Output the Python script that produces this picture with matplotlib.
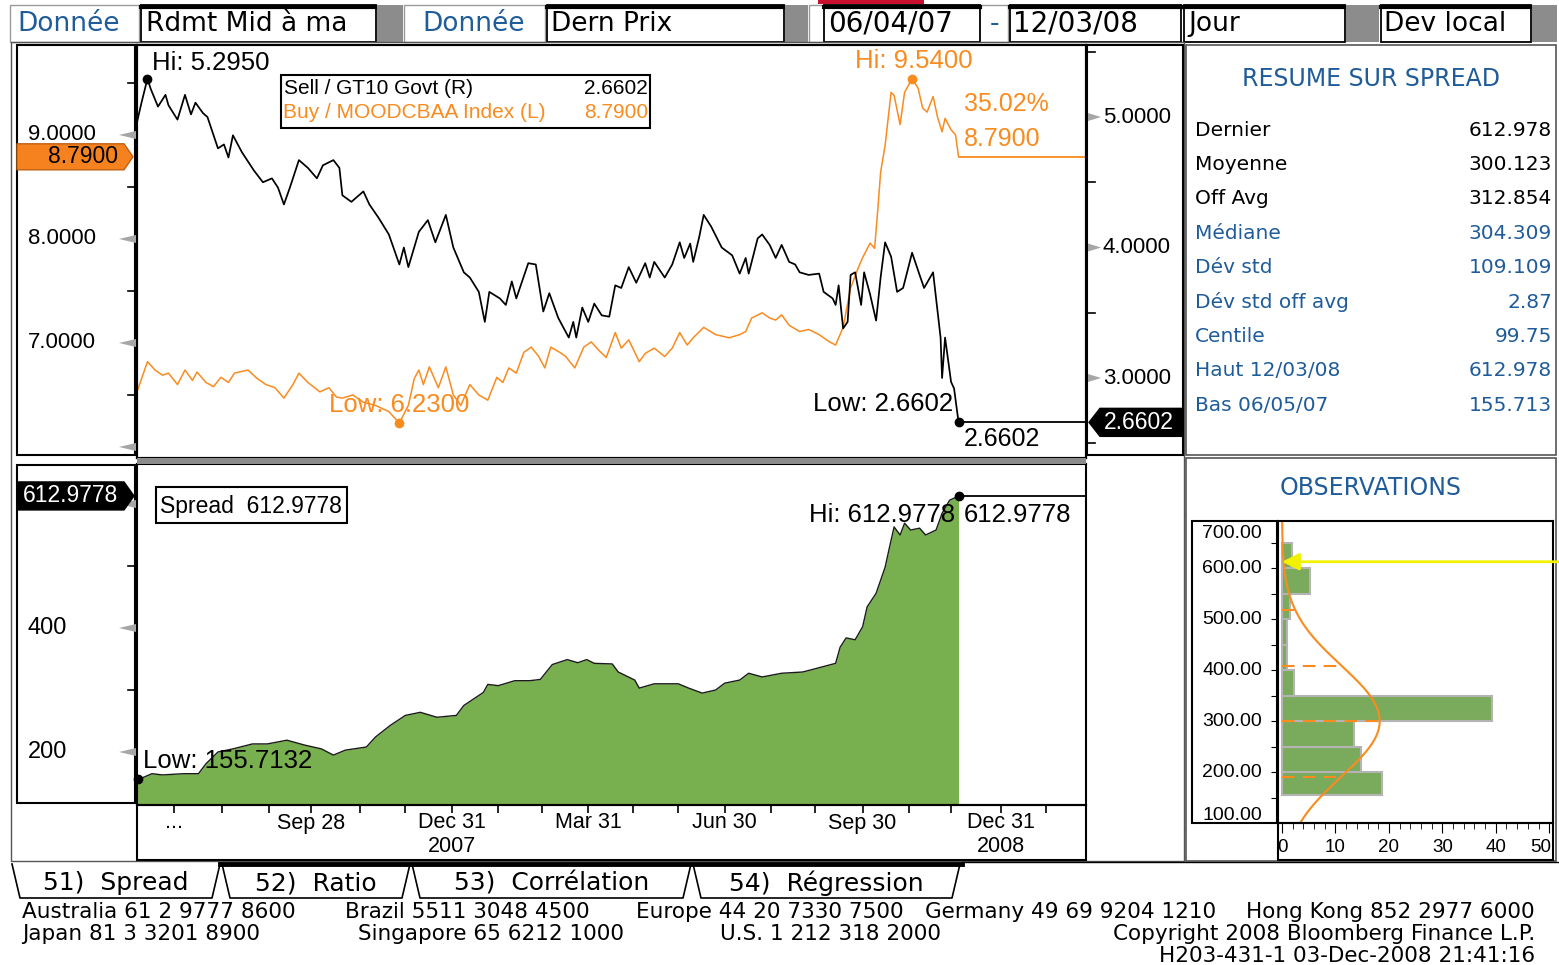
import numpy as np
import pandas as pd
import matplotlib
matplotlib.use("Agg")
import matplotlib.pyplot as plt
import matplotlib.dates as mdates
from matplotlib.patches import Rectangle, Polygon
from matplotlib import font_manager

# ---------------- DATA ----------------
START = "2007-06-04"
gt10_days = [0, 3, 7, 9, 14, 19, 21, 27, 32, 36,
             39, 44, 47, 54, 58, 61, 64, 70, 78, 84,
             90, 94, 98, 102, 108, 114, 120, 124, 131, 135,
             137, 143, 151, 155, 161, 168, 175, 178, 181, 188,
             194, 199, 206, 211, 218, 222, 228, 232, 235, 242,
             246, 250, 253, 261, 266, 271, 275, 281, 288, 291,
             293, 297, 301, 305, 310, 315, 319, 323, 328, 333,
             339, 342, 345, 352, 357, 362, 365, 369, 371, 375,
             378, 383, 390, 397, 402, 406, 408, 414, 417, 422,
             426, 430, 435, 439, 442, 448, 455, 458, 464, 466,
             468, 471, 474, 476, 479, 483, 485, 489, 493, 496,
             499, 503, 507, 511, 517, 522, 525, 531, 533, 536,
             537, 539, 543, 545, 548]
gt10_vals = [4.96, 5.11, 5.295, 5.22, 5.08, 5.17, 5.09, 4.98, 5.17, 5.02,
             5.11, 5.03, 5.00, 4.76, 4.79, 4.69, 4.86, 4.73, 4.59, 4.50,
             4.53, 4.46, 4.33, 4.46, 4.67, 4.61, 4.53, 4.63, 4.67, 4.61,
             4.40, 4.35, 4.43, 4.33, 4.23, 4.10, 3.87, 4.00, 3.85, 4.12,
             4.21, 4.04, 4.25, 4.00, 3.81, 3.77, 3.66, 3.43, 3.66, 3.61,
             3.56, 3.74, 3.61, 3.88, 3.87, 3.51, 3.65, 3.46, 3.31, 3.43,
             3.31, 3.54, 3.43, 3.57, 3.48, 3.47, 3.71, 3.69, 3.85, 3.73,
             3.88, 3.77, 3.89, 3.77, 3.87, 4.04, 3.92, 4.03, 3.89, 4.08,
             4.25, 4.16, 4.00, 3.94, 3.80, 3.92, 3.80, 4.07, 4.10, 4.02,
             3.92, 4.02, 3.89, 3.87, 3.81, 3.79, 3.80, 3.66, 3.61, 3.56,
             3.71, 3.38, 3.43, 3.79, 3.81, 3.56, 3.81, 3.64, 3.44, 3.77,
             4.04, 3.93, 3.66, 3.69, 3.96, 3.79, 3.69, 3.81, 3.61, 3.31,
             3.00, 3.31, 2.97, 2.92, 2.6602]

baa_days = [0, 7, 12, 17, 21, 27, 32, 37, 40, 46,
            51, 56, 61, 65, 74, 80, 86, 92, 98, 104,
            108, 114, 122, 128, 133, 137, 144, 151, 159, 168,
            175, 181, 185, 188, 191, 195, 201, 206, 211, 216,
            222, 228, 234, 240, 244, 248, 253, 258, 263, 268,
            272, 276, 282, 286, 292, 298, 303, 308, 313, 319,
            323, 328, 335, 339, 345, 352, 357, 362, 367, 371,
            378, 386, 395, 402, 406, 410, 417, 422, 426, 430,
            435, 442, 448, 455, 462, 466, 471, 476, 481, 484,
            489, 492, 494, 496, 499, 503, 505, 509, 512, 517,
            521, 524, 527, 531, 534, 537, 539, 543, 546, 548]
baa_vals = [6.53, 6.82, 6.74, 6.69, 6.71, 6.60, 6.74, 6.64, 6.72, 6.62,
            6.58, 6.67, 6.62, 6.71, 6.74, 6.66, 6.60, 6.57, 6.47, 6.60,
            6.71, 6.62, 6.53, 6.57, 6.48, 6.47, 6.50, 6.43, 6.40, 6.34,
            6.23, 6.40, 6.66, 6.74, 6.60, 6.77, 6.57, 6.77, 6.50, 6.40,
            6.60, 6.50, 6.45, 6.67, 6.62, 6.76, 6.71, 6.91, 6.96, 6.87,
            6.76, 6.96, 6.91, 6.87, 6.76, 6.96, 7.01, 6.93, 6.86, 7.10,
            6.95, 7.03, 6.82, 6.90, 6.95, 6.87, 6.95, 7.10, 6.98, 7.05,
            7.15, 7.08, 7.05, 7.08, 7.11, 7.24, 7.29, 7.24, 7.22, 7.27,
            7.17, 7.11, 7.13, 7.08, 7.01, 6.98, 7.15, 7.53, 7.72, 7.82,
            7.96, 7.91, 8.26, 8.64, 8.90, 9.41, 9.38, 9.10, 9.41, 9.54,
            9.45, 9.26, 9.22, 9.37, 9.17, 9.03, 9.16, 9.05, 9.00, 8.79]

spread_days = [0, 1, 10, 17, 31, 41, 46, 54, 64, 77,
               87, 100, 112, 123, 131, 139, 153, 159, 169, 179,
               189, 200, 213, 218, 231, 234, 241, 252, 262, 269,
               277, 287, 294, 300, 305, 317, 321, 332, 335, 345,
               361, 368, 377, 386, 392, 402, 408, 417, 430, 444,
               452, 466, 469, 473, 479, 484, 487, 493, 496, 499,
               502, 505, 509, 512, 516, 522, 526, 533, 537, 542,
               548]
spread_vals = [158, 155.7132, 165, 163, 165, 165, 181, 200, 205, 213,
               213, 219, 211, 205, 195, 203, 208, 224, 243, 259,
               264, 256, 259, 275, 296, 309, 307, 315, 315, 317,
               341, 349, 344, 349, 343, 342, 329, 316, 303, 310,
               310, 303, 295, 300, 311, 316, 327, 321, 327, 329,
               334, 343, 369, 384, 381, 402, 434, 456, 477, 498,
               531, 563, 550, 569, 558, 561, 550, 558, 585, 606,
               612.9778]

hist_edges = [155.71, 200, 250, 300, 350, 400, 450, 500, 550, 600, 650]
hist_pct = [18.8, 14.8, 13.5, 39.3, 2.2, 1.0, 1.0, 1.5, 5.2, 1.9]

summary_labels = ["Dernier", "Moyenne", "Off Avg", "Médiane", "Dév std",
                  "Dév std off avg", "Centile", "Haut 12/03/08", "Bas 06/05/07"]
summary_values = ["612.978", "300.123", "312.854", "304.309", "109.109",
                  "2.87", "99.75", "612.978", "155.713"]

qtr_labels = [("2007-06-29", "...", ""), ("2007-09-28", "Sep 28", ""),
              ("2007-12-31", "Dec 31", "2007"), ("2008-03-31", "Mar 31", ""),
              ("2008-06-30", "Jun 30", ""), ("2008-09-30", "Sep 30", ""),
              ("2008-12-31", "Dec 31", "2008")]

header_texts = ["Donnée", "Rdmt Mid à ma", "Donnée", "Dern Prix",
                "06/04/07", "-", "12/03/08", "Jour", "Dev local"]
tab_texts = ["51)  Spread", "52)  Ratio", "53)  Corrélation", "54)  Régression"]
legend_names = ["Sell / GT10 Govt (R)", "Buy / MOODCBAA Index (L)"]
pct_change_text = "35.02%"

# ---------------- SETUP ----------------
W, H = 1559, 965
fig = plt.figure(figsize=(W / 100, H / 100), dpi=100)
fig.patch.set_facecolor("white")

avail = {f.name for f in font_manager.fontManager.ttflist}
def pick(*names):
    for n in names:
        if n in avail:
            return n
    return "DejaVu Sans"
CHART = pick("Liberation Sans", "Arimo", "DejaVu Sans")
TERM = "DejaVu Sans"

ORANGE = "#f98b1f"
BLUE = "#1f5c99"
GREEN = "#79b04f"
HGREEN = "#7aab5c"
GREY = "#8c8c8c"

def rect(x0, y0, x1, y1):
    return [x0 / W, 1 - y1 / H, (x1 - x0) / W, (y1 - y0) / H]

start = pd.Timestamp(START)
gt10_dates = mdates.date2num(start + pd.to_timedelta(gt10_days, unit="D"))
baa_dates = mdates.date2num(start + pd.to_timedelta(baa_days, unit="D"))
spread_dates = mdates.date2num(start + pd.to_timedelta(spread_days, unit="D"))
xl = (mdates.date2num(start), mdates.date2num(start + pd.Timedelta(days=633)))

# ---------------- TOP CHART ----------------
ax_t = fig.add_axes(rect(137, 45, 1086, 458))
ax_t.plot(baa_dates, baa_vals, color=ORANGE, lw=1.1)
ax_t.set_xlim(xl)
ax_t.set_ylim(5.894, 9.865)
ax_r = ax_t.twinx()
ax_r.plot(gt10_dates, gt10_vals, color="black", lw=1.25)
ax_r.set_ylim(2.387, 5.552)
ax_r.set_xlim(xl)
for a in (ax_t, ax_r):
    a.tick_params(which="both", left=False, right=False, bottom=False, top=False,
                  labelleft=False, labelright=False, labelbottom=False)
    for s in a.spines.values():
        s.set_linewidth(1.5)
ax_t.set_xticks([])

ax_t.hlines(baa_vals[-1], baa_dates[-1], xl[1], color=ORANGE, lw=1.3)
ax_r.hlines(gt10_vals[-1], gt10_dates[-1], xl[1], color="black", lw=1.3, clip_on=False)

ih = int(np.argmax(gt10_vals)); il = int(np.argmin(gt10_vals))
ax_r.plot([gt10_dates[ih], gt10_dates[il]], [gt10_vals[ih], gt10_vals[il]], "o", color="black", ms=6)
ax_r.annotate(f"Hi: {gt10_vals[ih]:.4f}", (gt10_dates[ih], gt10_vals[ih]), xytext=(5, 16),
              textcoords="offset pixels", ha="left", va="center", fontsize=18.5, family=CHART)
ax_r.annotate(f"Low: {gt10_vals[il]:.4f}", (gt10_dates[il], gt10_vals[il]), xytext=(-5, 18),
              textcoords="offset pixels", ha="right", va="center", fontsize=18.5, family=CHART)
ax_r.annotate(f"{gt10_vals[-1]:.4f}", (gt10_dates[-1], gt10_vals[-1]), xytext=(5, -17),
              textcoords="offset pixels", ha="left", va="center", fontsize=18, family=CHART)

jh = int(np.argmax(baa_vals)); jl = int(np.argmin(baa_vals))
ax_t.plot([baa_dates[jh], baa_dates[jl]], [baa_vals[jh], baa_vals[jl]], "o", color=ORANGE, ms=6)
ax_t.annotate(f"Hi: {baa_vals[jh]:.4f}", (baa_dates[jh], baa_vals[jh]), xytext=(2, 18),
              textcoords="offset pixels", ha="center", va="center", fontsize=18.5,
              family=CHART, color=ORANGE)
ax_t.annotate(f"Low: {baa_vals[jl]:.4f}", (baa_dates[jl], baa_vals[jl]), xytext=(0, 18),
              textcoords="offset pixels", ha="center", va="center", fontsize=18.5,
              family=CHART, color=ORANGE)
ax_t.annotate(pct_change_text, (baa_dates[-1], baa_vals[-1]), xytext=(5, 53),
              textcoords="offset pixels", ha="left", va="center", fontsize=18,
              family=CHART, color=ORANGE)
ax_t.annotate(f"{baa_vals[-1]:.4f}", (baa_dates[-1], baa_vals[-1]), xytext=(5, 18),
              textcoords="offset pixels", ha="left", va="center", fontsize=18,
              family=CHART, color=ORANGE)

# ---------------- BOTTOM CHART ----------------
ax_b = fig.add_axes(rect(137, 464, 1086, 805))
ax_b.fill_between(spread_dates, spread_vals, 0, color=GREEN, lw=0)
ax_b.plot(spread_dates, spread_vals, color="#1a1a1a", lw=1.0)
ax_b.set_xlim(xl)
ax_b.set_ylim(114.5, 664.5)
ax_b.hlines(spread_vals[-1], spread_dates[-1], xl[1], color="black", lw=1.3)
kh = int(np.argmax(spread_vals)); kl = int(np.argmin(spread_vals))
ax_b.plot([spread_dates[kh], spread_dates[kl]], [spread_vals[kh], spread_vals[kl]], "o",
          color="black", ms=6, clip_on=False, zorder=5)
ax_b.annotate(f"Hi: {spread_vals[kh]:.4f}", (spread_dates[kh], spread_vals[kh]), xytext=(-3, -19),
              textcoords="offset pixels", ha="right", va="center", fontsize=18.5, family=CHART)
ax_b.annotate(f"{spread_vals[-1]:.4f}", (spread_dates[-1], spread_vals[-1]), xytext=(5, -19),
              textcoords="offset pixels", ha="left", va="center", fontsize=18.5, family=CHART)
ax_b.annotate(f"Low: {spread_vals[kl]:.4f}", (spread_dates[kl], spread_vals[kl]), xytext=(5, 18),
              textcoords="offset pixels", ha="left", va="center", fontsize=18.5, family=CHART)
month_ends = mdates.date2num(pd.date_range("2007-06-01", "2009-02-26", freq="BME"))
ax_b.set_xticks(month_ends)
ax_b.tick_params(axis="x", direction="out", length=5.5, width=1.2, labelbottom=False)
ax_b.tick_params(axis="y", left=False, labelleft=False)
for s in ax_b.spines.values():
    s.set_linewidth(1.5)

# ---------------- HISTOGRAM ----------------
ax_h = fig.add_axes(rect(1278, 521, 1553, 823))
ax_h.barh(hist_edges[:-1], hist_pct, height=np.diff(hist_edges), align="edge",
          color=HGREEN, edgecolor="#b4b4b4", lw=1.5)
mean = float(summary_values[1]); std = float(summary_values[4])
ys = np.linspace(100, 700, 400)
pdf = lambda y: 100 * 50 / (std * np.sqrt(2 * np.pi)) * np.exp(-0.5 * ((y - mean) / std) ** 2)
ax_h.plot(pdf(ys), ys, color=ORANGE, lw=1.5)
for k in (-1, 0, 1, 2):
    yv = mean + k * std
    ax_h.plot([0, pdf(yv)], [yv, yv], color=ORANGE, lw=1.5, dashes=(6, 4))
ax_h.set_xlim(-0.75, 50.7)
ax_h.set_ylim(100, 693)
ax_h.set_yticks(np.arange(150, 700, 50))
ax_h.set_xticks(np.arange(0, 51, 10))
ax_h.set_xticks(np.arange(0, 51, 2), minor=True)
ax_h.tick_params(axis="y", direction="out", length=5, labelleft=False)
ax_h.tick_params(axis="x", which="major", direction="out", length=7, labelbottom=False)
ax_h.tick_params(axis="x", which="minor", direction="out", length=4)
for s in ax_h.spines.values():
    s.set_linewidth(1.5)

# ---------------- OVERLAY ----------------
ov = fig.add_axes([0, 0, 1, 1], zorder=10)
ov.set_xlim(0, W); ov.set_ylim(H, 0)
ov.set_axis_off(); ov.patch.set_visible(False)

def py(ax, v):
    return H - ax.transData.transform((ax.get_xlim()[0], v))[1]
def pxx(ax, x):
    return ax.transData.transform((x, ax.get_ylim()[0]))[0]
def box(x0, y0, x1, y1, fc="none", ec="black", lw=1.3, z=2):
    ov.add_patch(Rectangle((x0, y0), x1 - x0, y1 - y0, fc=fc, ec=ec, lw=lw, zorder=z))

# header
hy = 24
box(10, 5, 139, 42, fc="white", ec="#9a9a9a", lw=1)
ov.text(17, hy, header_texts[0], color=BLUE, fontsize=19, family=TERM, va="center")
box(141, 5, 376, 42, fc="white"); ov.plot([141, 376], [6.5, 6.5], color="black", lw=3)
ov.text(146, hy, header_texts[1], fontsize=19, family=TERM, va="center")
box(377, 5, 403, 42, fc=GREY, ec="none")
box(404, 5, 545, 42, fc="white", ec="#9a9a9a", lw=1)
ov.text(422, hy, header_texts[2], color=BLUE, fontsize=19, family=TERM, va="center")
box(547, 5, 784, 42, fc="white"); ov.plot([547, 784], [6.5, 6.5], color="black", lw=3)
ov.text(551, hy, header_texts[3], fontsize=19, family=TERM, va="center")
box(785, 5, 808, 42, fc=GREY, ec="none")
box(809, 5, 1008, 42, fc="white", ec="#9a9a9a", lw=1)
box(824, 5, 980, 42, fc="white"); ov.plot([824, 980], [6.5, 6.5], color="black", lw=3)
ov.text(828, hy, header_texts[4], fontsize=20, family=TERM, va="center")
ov.text(995, hy, header_texts[5], color=BLUE, fontsize=19, family=TERM, va="center", ha="center")
box(1010, 5, 1181, 42, fc="white"); ov.plot([1010, 1181], [6.5, 6.5], color="black", lw=3)
ov.text(1013, hy, header_texts[6], fontsize=20, family=TERM, va="center")
box(1184, 5, 1345, 42, fc="white"); ov.plot([1184, 1345], [6.5, 6.5], color="black", lw=3)
ov.text(1188, hy, header_texts[7], fontsize=19, family=TERM, va="center")
box(1346, 5, 1379, 42, fc=GREY, ec="none")
box(1381, 5, 1531, 42, fc="white"); ov.plot([1381, 1531], [6.5, 6.5], color="black", lw=3)
ov.text(1384, hy, header_texts[8], fontsize=19, family=TERM, va="center")
box(1532, 5, 1557, 42, fc=GREY, ec="none")
box(818, 0, 924, 4, fc="#c8102e", ec="none")

# frames
box(11, 42, 1184, 861, ec="#555555", lw=1)
box(17, 45, 135, 455, lw=1.5)
box(1087, 45, 1183, 455, lw=1.5)
box(137, 458, 1086, 464, fc=GREY, ec="none")
box(17, 465, 135, 803, lw=1.5)
box(137, 805, 1086, 860, lw=1.5)
box(1186, 45, 1556, 455, ec="#555555", lw=1.2)
box(1186, 458, 1556, 861, ec="#555555", lw=1.2)

def tri_left(y):
    ov.add_patch(Polygon([(136, y - 4), (136, y + 4), (119, y)], closed=True, fc="#a6a6a6", ec="none", zorder=3))
def tri_right(y):
    ov.add_patch(Polygon([(1088, y - 4), (1088, y + 4), (1101, y)], closed=True, fc="#a6a6a6", ec="none", zorder=3))
def minor_left(y):
    ov.plot([128, 136], [y, y], color="black", lw=1.2)
def minor_right(y):
    ov.plot([1087, 1095], [y, y], color="black", lw=1.2)

# top left axis (MOODCBAA)
for v in (6, 7, 8, 9):
    tri_left(py(ax_t, v))
for v in (7, 8, 9):
    ov.text(28, py(ax_t, v), f"{v:.4f}", fontsize=16, family=CHART, va="center", ha="left")
for v in (6.5, 7.5, 8.5, 9.5):
    minor_left(py(ax_t, v))
# top right axis (GT10)
for v in (3, 4, 5):
    y = py(ax_r, v)
    tri_right(y)
    ov.text(1103, y, f"{v:.4f}", fontsize=16, family=CHART, va="center", ha="left")
for v in (2.5, 3.5, 4.5, 5.5):
    minor_right(py(ax_r, v))
# bottom left axis
for v in (200, 400, 600):
    tri_left(py(ax_b, v))
for v in (200, 400):
    ov.text(28, py(ax_b, v), f"{v}", fontsize=17, family=CHART, va="center", ha="left")
for v in (300, 500):
    minor_left(py(ax_b, v))

# tags
y = py(ax_t, baa_vals[-1])
ov.add_patch(Polygon([(17, y - 13), (124, y - 13), (133, y), (124, y + 13), (17, y + 13)],
                     closed=True, fc="#f5821f", ec="#c06010", lw=1, zorder=4))
ov.text(118, y, f"{baa_vals[-1]:.4f}", fontsize=16.5, family=CHART, va="center", ha="right", zorder=5)
y = py(ax_b, spread_vals[-1])
ov.add_patch(Polygon([(17, y - 14), (124, y - 14), (134, y), (124, y + 14), (17, y + 14)],
                     closed=True, fc="black", ec="black", lw=1, zorder=4))
ov.text(118, y, f"{spread_vals[-1]:.4f}", fontsize=16.5, family=CHART, va="center", ha="right",
        color="white", zorder=5)
y = py(ax_r, gt10_vals[-1])
ov.add_patch(Polygon([(1089, y), (1100, y - 14), (1183, y - 14), (1183, y + 14), (1100, y + 14)],
                     closed=True, fc="black", ec="black", lw=1, zorder=4))
ov.text(1174, y, f"{gt10_vals[-1]:.4f}", fontsize=16.5, family=CHART, va="center", ha="right",
        color="white", zorder=5)

# legends
box(281, 75, 650, 128, fc="white", lw=1.5, z=3)
ov.text(284, 89, legend_names[0], fontsize=15, family=CHART, va="center", zorder=4)
ov.text(648, 89, f"{gt10_vals[-1]:.4f}", fontsize=15, family=CHART, va="center", ha="right", zorder=4)
ov.text(283, 112, legend_names[1], fontsize=15, family=CHART, va="center", color=ORANGE, zorder=4)
ov.text(648, 112, f"{baa_vals[-1]:.4f}", fontsize=15, family=CHART, va="center", ha="right",
        color=ORANGE, zorder=4)
box(156, 487, 347, 523, fc="white", lw=1.5, z=3)
ov.text(160, 506, f"Spread  {spread_vals[-1]:.4f}", fontsize=16.5, family=CHART, va="center", zorder=4)

# x axis labels
for d, l1, l2 in qtr_labels:
    x = pxx(ax_b, mdates.date2num(pd.Timestamp(d)))
    ov.text(x, 823, l1, fontsize=15.5, family=CHART, ha="center", va="center")
    if l2:
        ov.text(x, 846, l2, fontsize=15.5, family=CHART, ha="center", va="center")

# resume panel
ov.text(1371, 79, "RESUME SUR SPREAD", color=BLUE, fontsize=17, family=TERM, ha="center", va="center")
for i, (lab, val) in enumerate(zip(summary_labels, summary_values)):
    yy = 130 + i * 34.4
    c = "black" if i < 3 else BLUE
    ov.text(1195, yy, lab, color=c, fontsize=14.5, family=TERM, va="center")
    ov.text(1552, yy, val, color=c, fontsize=14.5, family=TERM, va="center", ha="right")

# observations panel
ov.text(1371, 488, "OBSERVATIONS", color=BLUE, fontsize=17, family=TERM, ha="center", va="center")
box(1192, 521, 1277, 823, lw=1.5)
box(1278, 823, 1553, 860, lw=1.5)
for v in range(100, 701, 100):
    yy = min(max(py(ax_h, v), 533), 815)
    ov.text(1262, yy, f"{v:.2f}", fontsize=14, family=CHART, ha="right", va="center")
for v in range(0, 51, 10):
    xx = min(pxx(ax_h, v), 1541)
    ov.text(xx, 848, f"{v}", fontsize=13.5, family=CHART, ha="center", va="center")
ya = py(ax_h, spread_vals[-1])
xa = pxx(ax_h, 0)
ov.annotate("", xy=(xa, ya), xytext=(W, ya),
            arrowprops=dict(arrowstyle="-|>", color="#f2f200", lw=2, mutation_scale=26,
                            shrinkA=0, shrinkB=0))

# tabs
ov.plot([220, 962], [863.5, 863.5], color="black", lw=3.5)
ov.plot([962, W], [862, 862], color="black", lw=1)
tab_x = [(12, 220), (222, 410), (412, 691), (693, 960)]
for (x0, x1), t in zip(tab_x, tab_texts):
    ov.plot([x0, x0 + 8, x1 - 8, x1], [864, 898, 898, 864], color="black", lw=1.2)
    ov.text((x0 + x1) / 2, 883, t, fontsize=18, family=TERM, ha="center", va="center")

# footer
fy1, fy2, fy3 = 912, 934, 956
for t, x in [("Australia 61 2 9777 8600", 22), ("Brazil 5511 3048 4500", 345),
             ("Europe 44 20 7330 7500", 636), ("Germany 49 69 9204 1210", 925)]:
    ov.text(x, fy1, t, fontsize=15.5, family=TERM, va="center")
ov.text(1535, fy1, "Hong Kong 852 2977 6000", fontsize=15.5, family=TERM, va="center", ha="right")
for t, x in [("Japan 81 3 3201 8900", 22), ("Singapore 65 6212 1000", 358),
             ("U.S. 1 212 318 2000", 720)]:
    ov.text(x, fy2, t, fontsize=15.5, family=TERM, va="center")
ov.text(1535, fy2, "Copyright 2008 Bloomberg Finance L.P.", fontsize=15.5, family=TERM, va="center", ha="right")
ov.text(1535, fy3, "H203-431-1 03-Dec-2008 21:41:16", fontsize=15.5, family=TERM, va="center", ha="right")

fig.savefig("out.png", dpi=100)
